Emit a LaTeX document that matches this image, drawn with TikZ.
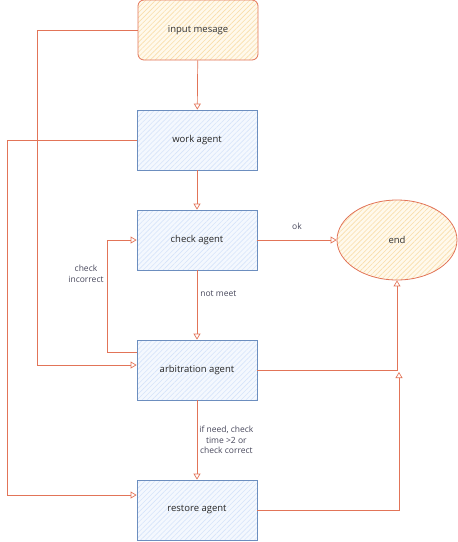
\documentclass[tikz,border=0pt]{standalone}
\usepackage{fontspec}
\setmainfont{Open Sans}
\usetikzlibrary{positioning,shapes.geometric,patterns.meta,arrows.meta}
\definecolor{flowline}{RGB}{226,116,88}
\definecolor{agentline}{RGB}{108,142,191}
\definecolor{agentbg}{RGB}{244,248,254}
\definecolor{agenthatch}{RGB}{214,228,250}
\definecolor{warmbg}{RGB}{255,249,236}
\definecolor{warmhatch}{RGB}{249,222,170}
\definecolor{labeltext}{RGB}{70,70,90}
\begin{document}
\begin{tikzpicture}[x=1pt,y=-1pt,>={Triangle[open,length=6pt,width=7pt]},
	agent/.style={draw=agentline,line width=0.8pt,minimum width=120pt,minimum height=60pt,
		preaction={fill=agentbg},pattern={Lines[angle=45,distance=3.5pt,line width=0.6pt]},
		pattern color=agenthatch,font=\fontsize{9.5}{11}\selectfont,text=black!85},
	warm/.style={draw=flowline,line width=0.8pt,preaction={fill=warmbg},
		pattern={Lines[angle=45,distance=3.5pt,line width=0.6pt]},pattern color=warmhatch,
		font=\fontsize{9.5}{11}\selectfont,text=black!80},
	flow/.style={draw=flowline,line width=0.7pt},
	lbl/.style={font=\fontsize{8.5}{10.5}\selectfont,text=labeltext,align=center,inner sep=1pt}]
	\useasboundingbox (0,0) rectangle (458,542);
	\node[warm,rounded corners=6pt,minimum width=120pt,minimum height=60pt] (input) at (198,30) {input mesage};
	\node[agent] (work) at (197,140) {work agent};
	\node[agent] (check) at (197,240) {check agent};
	\node[warm,ellipse,minimum width=120pt,minimum height=80pt] (end) at (397,240) {end};
	\node[agent] (arb) at (197,370) {arbitration agent};
	\node[agent] (rest) at (197,510) {restore agent};
	\coordinate (join) at (399,372);
	\draw[flow,->] (input) -- (work);
	\draw[flow,->] (work) -- (check);
	\draw[flow,->] (check) -- node[lbl,above=9pt]{ok} (end);
	\draw[flow,->] (check) -- node[lbl,pos=0.33,right=2pt]{not meet} (arb);
	\draw[flow,->] (arb) -| (end);
	\draw[flow,->] (rest) -| (join);
	\draw[flow,->] (input.west) -- ++(-100,0) |- ([yshift=5pt]arb.west);
	\draw[flow,->] (work.west) -- ++(-129,0) |- ([yshift=15pt]rest.west);
	\draw[flow,->] ([yshift=18pt]arb.west) -- ++(-29,0) |- (check.west);
	\node[lbl] (incorrect) at (86,274) {check\\incorrect};
	\draw[flow,->] (arb) -- node[lbl,right=1pt]{if need, check\\time >2 or\\check correct} (rest);
\end{tikzpicture}
\end{document}
